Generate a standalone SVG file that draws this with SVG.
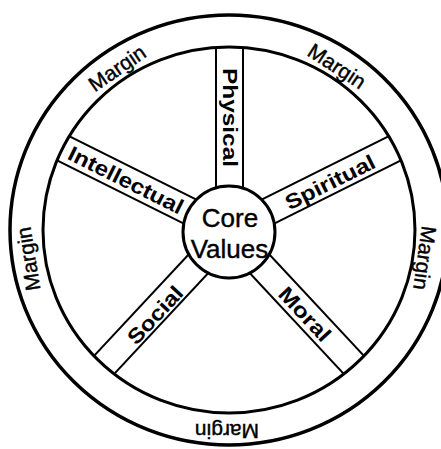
<svg xmlns="http://www.w3.org/2000/svg" width="441" height="449" viewBox="0 0 441 449">
  <style>
    .ring { fill: #fff; stroke: #000; stroke-width: 3.5; }
    .inner { fill: #fff; stroke: #000; stroke-width: 3; }
    .spoke line { stroke: #000; stroke-width: 2; }
    .margin { font-family: "Liberation Sans", Arial, sans-serif; font-size: 21px; fill: #000; stroke: #000; stroke-width: 0.4; text-anchor: middle; dominant-baseline: central; }
    .label { font-family: "Liberation Sans", Arial, sans-serif; font-size: 21px; font-weight: bold; fill: #000; text-anchor: middle; dominant-baseline: central; }
    .core { font-family: "Liberation Sans", Arial, sans-serif; font-size: 26px; fill: #000; stroke: #000; stroke-width: 0.4; text-anchor: middle; }
  </style>
  <defs>
    <clipPath id="innerClip">
      <ellipse cx="229" cy="230" rx="185" ry="182"/>
    </clipPath>
    <g id="spokeShape" class="spoke">
      <line x1="0" y1="-13.5" x2="220" y2="-13.5"/>
      <line x1="0" y1="13.5" x2="220" y2="13.5"/>
    </g>
  </defs>
  <rect width="441" height="449" fill="#fff"/>

  <g id="wheel">
    <ellipse class="ring" cx="229" cy="230" rx="219" ry="215"/>
    <ellipse class="inner" cx="229" cy="230" rx="186" ry="183"/>
  </g>

  <g id="connectors" clip-path="url(#innerClip)">
    <use href="#spokeShape" transform="translate(229.5 231) rotate(-90)"/>
    <use href="#spokeShape" transform="translate(229 231) rotate(-26.5)"/>
    <use href="#spokeShape" transform="translate(229 231) rotate(47)"/>
    <use href="#spokeShape" transform="translate(229 231) rotate(133)"/>
    <use href="#spokeShape" transform="translate(229 231) rotate(206.5)"/>
  </g>

  <g id="core">
    <circle cx="229" cy="232" r="46" fill="#fff" stroke="#000" stroke-width="3"/>
    <text class="core" x="230" y="227">Core</text>
    <text class="core" x="229.5" y="258">Values</text>
  </g>

  <g id="physical">
    <text class="label" transform="translate(230 117.5) rotate(90)" textLength="99" lengthAdjust="spacingAndGlyphs">Physical</text>
  </g>
  <g id="spiritual">
    <text class="label" transform="translate(330 182) rotate(-26.5)" textLength="98" lengthAdjust="spacingAndGlyphs">Spiritual</text>
  </g>
  <g id="moral">
    <text class="label" transform="translate(305 314) rotate(47)" textLength="66" lengthAdjust="spacingAndGlyphs">Moral</text>
  </g>
  <g id="social">
    <text class="label" transform="translate(155 315) rotate(-47)" textLength="71" lengthAdjust="spacingAndGlyphs">Social</text>
  </g>
  <g id="intellectual">
    <text class="label" transform="translate(126 180) rotate(26.5)" textLength="126" lengthAdjust="spacingAndGlyphs">Intellectual</text>
  </g>

  <g id="margins">
    <text class="margin" transform="translate(117 68) rotate(-34.6)">Margin</text>
    <text class="margin" transform="translate(337 66) rotate(33)">Margin</text>
    <text class="margin" transform="translate(425 258) rotate(97.8)" font-size="20">Margin</text>
    <text class="margin" transform="translate(227 431) rotate(180)">Margin</text>
    <text class="margin" transform="translate(28 259) rotate(-99)">Margin</text>
  </g>
</svg>
